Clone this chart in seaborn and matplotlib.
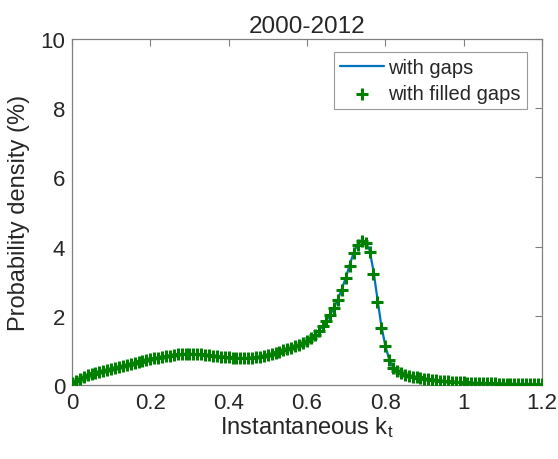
import numpy as np
import pandas as pd
import matplotlib
matplotlib.use("Agg")
import matplotlib.pyplot as plt
import seaborn as sns

# Instantaneous clearness index grid (step 0.01)
kt = np.round(np.arange(0, 121) * 0.01, 2)

# Probability density (%) computed with filled gaps
density_filled = [
    0.05, 0.12, 0.18, 0.23, 0.28, 0.31, 0.35, 0.38, 0.41, 0.44,
    0.47, 0.50, 0.52, 0.54, 0.57, 0.60, 0.63, 0.66, 0.69, 0.72,
    0.75, 0.77, 0.79, 0.81, 0.83, 0.85, 0.87, 0.88, 0.89, 0.90,
    0.90, 0.90, 0.89, 0.88, 0.87, 0.86, 0.84, 0.83, 0.82, 0.81,
    0.80, 0.79, 0.78, 0.78, 0.78, 0.78, 0.79, 0.80, 0.82, 0.84,
    0.86, 0.89, 0.92, 0.96, 1.00, 1.04, 1.08, 1.12, 1.16, 1.21,
    1.27, 1.35, 1.45, 1.57, 1.70, 1.85, 2.02, 2.22, 2.45, 2.75,
    3.08, 3.45, 3.80, 4.05, 4.17, 4.10, 3.85, 3.20, 2.40, 1.65,
    1.12, 0.72, 0.50, 0.40, 0.34, 0.30, 0.27, 0.24, 0.22, 0.20,
    0.18, 0.16, 0.14, 0.13, 0.12, 0.11, 0.10, 0.09, 0.09, 0.08,
    0.08, 0.07, 0.07, 0.06, 0.06, 0.06, 0.05, 0.05, 0.05, 0.04,
    0.04, 0.04, 0.04, 0.03, 0.03, 0.03, 0.03, 0.03, 0.02, 0.02,
    0.02,
]

# Probability density (%) computed with gaps left in the record
density_gaps = [
    0.05, 0.12, 0.18, 0.23, 0.28, 0.31, 0.35, 0.38, 0.41, 0.44,
    0.47, 0.50, 0.52, 0.54, 0.57, 0.60, 0.63, 0.66, 0.69, 0.72,
    0.75, 0.77, 0.79, 0.81, 0.83, 0.85, 0.87, 0.88, 0.89, 0.90,
    0.90, 0.90, 0.89, 0.88, 0.87, 0.86, 0.84, 0.83, 0.82, 0.81,
    0.80, 0.79, 0.78, 0.78, 0.78, 0.78, 0.79, 0.80, 0.82, 0.84,
    0.86, 0.89, 0.92, 0.96, 1.00, 1.04, 1.08, 1.12, 1.16, 1.21,
    1.27, 1.35, 1.45, 1.57, 1.70, 1.86, 2.04, 2.25, 2.50, 2.80,
    3.12, 3.50, 3.84, 4.08, 4.19, 4.13, 3.90, 3.30, 2.50, 1.72,
    1.15, 0.74, 0.51, 0.40, 0.34, 0.30, 0.27, 0.24, 0.22, 0.20,
    0.18, 0.16, 0.14, 0.13, 0.12, 0.11, 0.10, 0.09, 0.09, 0.08,
    0.08, 0.07, 0.07, 0.06, 0.06, 0.06, 0.05, 0.05, 0.05, 0.04,
    0.04, 0.04, 0.04, 0.03, 0.03, 0.03, 0.03, 0.03, 0.02, 0.02,
    0.02,
]

x_ticks = [0, 0.2, 0.4, 0.6, 0.8, 1, 1.2]
x_tick_labels = ["0", "0.2", "0.4", "0.6", "0.8", "1", "1.2"]
y_ticks = [0, 2, 4, 6, 8, 10]

sns.set_style("white")
plt.rcParams["font.family"] = ["Liberation Sans", "DejaVu Sans"]
plt.rcParams["mathtext.fontset"] = "custom"
plt.rcParams["mathtext.rm"] = "Liberation Sans"
plt.rcParams["mathtext.it"] = "Liberation Sans"

text_color = "#262626"
axis_color = "#808080"

df = pd.DataFrame({"kt": kt, "gaps": density_gaps, "filled": density_filled})

fig = plt.figure(figsize=(5.58, 4.60), dpi=100)
ax = fig.add_axes([0.129, 0.161, 0.842, 0.752])

sns.lineplot(data=df, x="kt", y="gaps", ax=ax, color="#0072BD",
             linewidth=1.6, label="with gaps", zorder=2)
sns.scatterplot(data=df, x="kt", y="filled", ax=ax, color="#008000",
                marker="+", s=75, linewidth=2.2, label="with filled gaps",
                zorder=3)

ax.set_xlim(0, 1.2)
ax.set_ylim(0, 10)
ax.set_xticks(x_ticks)
ax.set_xticklabels(x_tick_labels)
ax.set_yticks(y_ticks)

ax.tick_params(direction="in", length=5, width=0.8, colors=axis_color,
               labelcolor=text_color, labelsize=16, top=True, right=True,
               pad=5)
for spine in ax.spines.values():
    spine.set_color(axis_color)
    spine.set_linewidth(0.9)

ax.set_xlabel(r"Instantaneous k$_\mathregular{t}$", fontsize=17,
              color=text_color, labelpad=1)
ax.set_ylabel("Probability density (%)", fontsize=17, color=text_color,
              labelpad=7)
ax.set_title("2000-2012", fontsize=17.5, color=text_color, pad=5)

leg = ax.legend(loc="upper right", fontsize=14.5, frameon=True, fancybox=False,
                borderpad=0.3, handlelength=2.2, handletextpad=0.2,
                labelspacing=0.35, borderaxespad=0.0,
                bbox_to_anchor=(0.968, 0.962))
leg.get_frame().set_edgecolor(axis_color)
leg.get_frame().set_linewidth(0.8)
for t in leg.get_texts():
    t.set_color(text_color)

fig.savefig("out.png", dpi=100)
